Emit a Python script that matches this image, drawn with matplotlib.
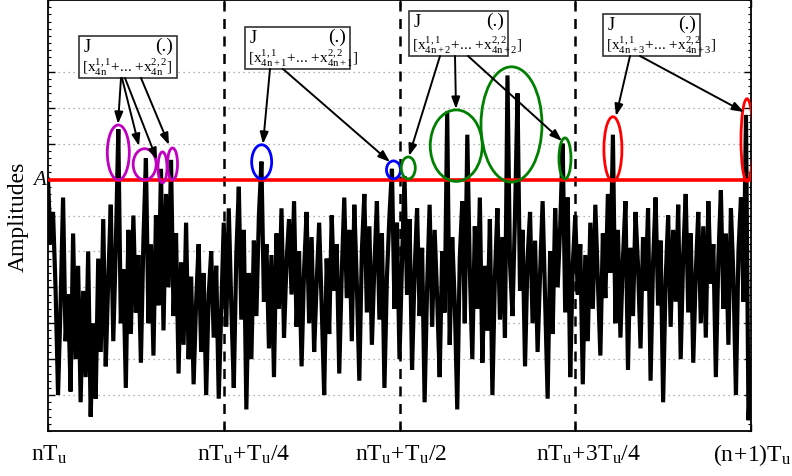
import numpy as np
import matplotlib
matplotlib.use('Agg')
import matplotlib.pyplot as plt
from matplotlib.patches import Ellipse, Rectangle
from matplotlib.ticker import AutoMinorLocator

plt.rcParams['font.family'] = ['Liberation Serif', 'DejaVu Serif']
plt.rcParams['mathtext.fontset'] = 'custom'
plt.rcParams['mathtext.rm'] = 'Liberation Serif'
plt.rcParams['mathtext.it'] = 'Liberation Serif:italic'
plt.rcParams['mathtext.bf'] = 'Liberation Serif:bold'

# ---------------- data ----------------
amplitudes = [
    7.0, 5.2, 6.1, 4.0, 1.0, 3.5, 6.5, 2.5, 3.8, 1.1,
    5.5, 2.0, 4.6, 0.8, 3.9, 1.5, 5.0, 0.4, 3.0, 0.9,
    4.8, 2.2, 5.9, 1.8, 4.2, 6.3, 2.5, 5.1, 8.4, 3.0,
    4.5, 1.2, 5.6, 2.7, 6.0, 3.3, 4.9, 1.9, 5.3, 7.6,
    3.0, 5.2, 2.1, 6.0, 3.5, 7.3, 2.8, 6.6, 4.0, 7.55,
    3.2, 5.5, 1.6, 4.7, 2.4, 5.8, 2.0, 4.3, 1.3, 3.6,
    5.2, 2.2, 4.4, 1.0, 3.8, 5.0, 2.6, 4.6, 0.9, 3.4,
    5.8, 2.9, 6.2, 3.5, 1.2, 4.9, 6.8, 3.1, 5.6, 0.6,
    4.4, 2.0, 5.3, 3.2, 6.0, 7.5, 3.6, 5.2, 2.3, 4.9,
    1.5, 5.5, 3.4, 6.2, 2.6, 4.7, 5.9, 3.8, 6.4, 2.9,
    5.0, 1.8, 4.5, 6.1, 3.0, 5.4, 2.2, 4.1, 5.8, 3.5,
    1.0, 4.8, 2.7, 6.0, 3.9, 5.2, 1.6, 4.4, 6.5, 3.7,
    5.6, 2.5, 6.3, 4.1, 1.4, 5.0, 6.6, 3.3, 5.7, 2.4,
    4.6, 6.4, 3.1, 5.5, 1.2, 4.3, 6.0, 7.3, 3.4, 5.8,
    2.0, 4.7, 7.1, 3.8, 5.9, 1.7, 4.4, 6.2, 3.2, 5.1,
    0.8, 4.0, 6.3, 2.9, 5.6, 3.7, 1.5, 5.0, 3.3, 8.9,
    2.4, 5.4, 3.6, 0.6, 4.8, 6.4, 3.0, 8.25, 4.5, 2.0,
    5.7, 3.4, 6.5, 1.9, 4.6, 2.8, 5.9, 1.0, 4.3, 6.2,
    3.1, 5.4, 2.6, 9.9, 4.7, 3.2, 6.0, 9.4, 3.9, 5.6,
    1.8, 4.8, 6.1, 3.0, 5.3, 2.2, 4.4, 6.4, 3.6, 0.9,
    5.0, 2.7, 6.2, 4.0, 5.7, 8.0, 3.3, 6.5, 1.5, 4.6,
    6.0, 3.8, 5.2, 1.3, 4.9, 2.5, 5.8, 3.4, 6.3, 4.2,
    2.1, 5.5, 3.7, 6.6, 4.4, 8.25, 3.0, 5.6, 2.6, 4.8,
    6.4, 1.7, 5.1, 3.2, 6.1, 4.6, 2.3, 5.4, 3.9, 6.2,
    1.4, 4.7, 6.5, 3.5, 5.3, 0.8, 4.2, 6.0, 2.9, 5.6,
    3.6, 6.3, 2.0, 4.9, 6.6, 3.3, 5.5, 1.9, 4.4, 6.1,
    3.0, 5.7, 2.6, 6.4, 4.1, 5.2, 1.5, 4.8, 6.7, 3.4,
    5.5, 2.4, 6.2, 4.3, 1.0, 5.0, 6.5, 3.6, 8.8, 0.3, 2.0,
]
threshold_A = 7.0
quarter_marks = [0.25, 0.5, 0.75]
x_tick_labels = [
    r'$\mathrm{nT_u}$',
    r'$\mathrm{nT_u\!+\!T_u/4}$',
    r'$\mathrm{nT_u\!+\!T_u/2}$',
    r'$\mathrm{nT_u\!+\!3T_u/4}$',
    r'$\mathrm{(n\!+\!1)T_u}$',
]
box_subscripts = ['4n', '4n+1', '4n+2', '4n+3']

# ellipses: (centre index in signal, bottom value, top value, colour)
ellipse_groups = [
    (28.0, 6.99, 8.52, 'm'), (38.5, 6.99, 7.86, 'm'),
    (45.6, 6.91, 7.77, 'm'), (49.6, 6.99, 7.88, 'm'),
    (85.1, 7.02, 7.97, 'b'), (137.6, 7.02, 7.52, 'b'),
    (143.5, 7.02, 7.63, 'g'), (162.6, 6.95, 8.94, 'g'),
    (184.6, 6.93, 10.14, 'g'), (205.9, 7.02, 8.16, 'g'),
    (225.0, 6.95, 8.75, 'r'), (278.4, 6.95, 9.25, 'r'),
]
ellipse_widths_px = [22, 23, 9, 10, 20, 14, 14, 52, 61, 12, 18, 12]

# ---------------- figure ----------------
W, H = 792, 477
L, R, T, B = 48, 751, 1, 432
fig = plt.figure(figsize=(W / 100, H / 100), dpi=100)
ax = fig.add_axes([L / W, (H - B) / H, (R - L) / W, (B - T) / H])
YMAX = 12.0


def px(xp, yp):
    return (xp - L) / (R - L), (B - yp) / (B - T) * YMAX


x = np.linspace(0, 1, len(amplitudes))
idx = np.arange(len(amplitudes))

ax.set_xlim(0, 1)
ax.set_ylim(0, YMAX)

# grid
for yv in range(1, 11):
    ax.axhline(yv, color='#999999', lw=0.9, ls=(0, (1, 3)), zorder=0)
for q in quarter_marks:
    ax.axvline(q, color='black', lw=1.8, ls=(0, (4, 3)), zorder=1)

ax.plot(x, amplitudes, color='black', lw=3.0, zorder=3, solid_joinstyle='miter')
ax.axhline(threshold_A, color='red', lw=2.6, zorder=4)

for (ci, y0, y1, c), wp in zip(ellipse_groups, ellipse_widths_px):
    cx = np.interp(ci, idx, x)
    e = Ellipse((cx, (y0 + y1) / 2), wp / (R - L), y1 - y0, fill=False,
                edgecolor=c, lw=2.0, zorder=5)
    ax.add_patch(e)

# boxes (pixel rectangles)
boxes = [(79, 37, 177, 79), (245, 28, 350, 70), (409, 12, 508, 57), (603, 15, 700, 57)]
for (x0, y0, x1, y1), sub in zip(boxes, box_subscripts):
    a0, b0 = px(x0, y1)
    a1, b1 = px(x1, y0)
    ax.add_patch(Rectangle((a0, b0), a1 - a0, b1 - b0, facecolor='white',
                           edgecolor='#333333', lw=1.2, zorder=6))
    jx, jy = px(x0 + 5, y0 + 2)
    ax.text(jx, jy, 'J', fontsize=13, ha='left', va='top', zorder=7)
    dx, dy = px(x1 - 4, y0 + 1)
    ax.text(dx, dy, '(.)', fontsize=14, ha='right', va='top', zorder=7)
    sx, sy = px(x0 + 3, y1 - 1)
    ax.text(sx, sy,
            r'$\mathrm{[x^{1,1}_{%s}\!+\!.\!.\!.\!+\!x^{2,2}_{%s}]}$' % (sub, sub),
            fontsize=11, ha='left', va='bottom', zorder=7)

# arrows (tail px, head px)
arrows = [
    ((121, 79), (118, 125)), ((122, 79), (139, 147)),
    ((125, 79), (157, 161)), ((141, 79), (169, 146)),
    ((270, 70), (263, 145)), ((283, 70), (390, 163)),
    ((440, 57), (409, 157)), ((455, 57), (456, 110)), ((468, 57), (562, 142)),
    ((630, 57), (616, 117)), ((640, 57), (744, 113)),
]
for tail, head in arrows:
    ax.annotate('', xy=px(*head), xytext=px(*tail),
                arrowprops=dict(arrowstyle='-|>,head_length=0.7,head_width=0.25',
                                color='black', lw=1.4, shrinkA=0, shrinkB=0),
                zorder=8)

# axes styling
ax.set_xticks([0] + quarter_marks + [1])
ax.set_xticklabels([])
ax.set_yticks(list(range(1, 11)))
ax.set_yticklabels([])
ax.yaxis.set_minor_locator(AutoMinorLocator(5))
ax.tick_params(which='both', direction='in', right=True, top=True)
ax.tick_params(which='major', length=5, width=1)
ax.tick_params(which='minor', length=2.5, width=0.8)
for s in ax.spines.values():
    s.set_linewidth(1.3)

ax.text(-0.003, threshold_A, 'A', fontsize=15, style='italic', ha='right', va='center',
        transform=ax.get_yaxis_transform())
ax.set_ylabel('Amplitudes', fontsize=17, labelpad=10)

label_px = [49, 244, 401, 589, 752]
for lp, lab in zip(label_px, x_tick_labels):
    fig.text(lp / W, (H - 455) / H, lab, fontsize=17, ha='center', va='center')

fig.savefig('out.png', dpi=100)
